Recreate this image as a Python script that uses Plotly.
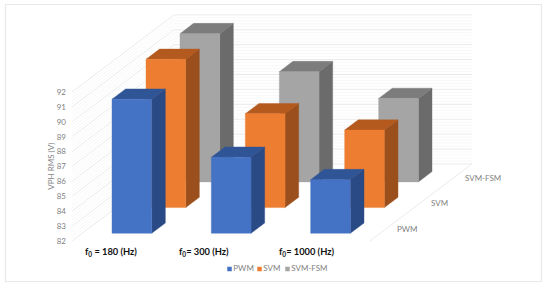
import plotly.graph_objects as go

categories = ["f<sub>0</sub> = 180 (Hz)", "f<sub>0</sub>= 300 (Hz)", "f<sub>0</sub>= 1000 (Hz)"]
series_names = ["PWM", "SVM", "SVM-FSM"]
pwm = [91.0, 87.1, 85.6]
svm = [91.95, 88.3, 87.2]
svm_fsm = [91.95, 89.4, 87.6]
y_ticks = [82, 83, 84, 85, 86, 87, 88, 89, 90, 91, 92]
y_title = "VPH RMS (V)"

values = [pwm, svm, svm_fsm]
front = ["#4472C4", "#ED7D31", "#A5A5A5"]
top = ["#2F5597", "#B45A1E", "#7C7C7C"]
side = ["#2A4A85", "#9B4F1C", "#6B6B6B"]

# layout geometry of the oblique projection (pixels)
W, H = 550, 288
X0, Y0 = 72.0, 241.0      # front-left floor corner
CAT_W = 99.33             # px per category
UNIT = 14.9               # px per value unit
DX, DY = 34.0, 25.7       # px shift per depth slot
BASE = 82
GAP, BAR = 0.3, 0.4

x_range = [-X0 / CAT_W, (W - X0) / CAT_W]
y_range = [BASE - (H - Y0) / UNIT, BASE + Y0 / UNIT]


def proj(cat, val, depth):
    """category position, value and depth slot -> plotted x, y (oblique projection)."""
    return cat + depth * DX / CAT_W, val + depth * DY / UNIT


def poly(points, color):
    pts = [proj(*p) for p in points] + [proj(*points[0])]
    return go.Scatter(x=[p[0] for p in pts], y=[p[1] for p in pts], mode="lines",
                      fill="toself", fillcolor=color, line=dict(width=0.4, color=color),
                      hoverinfo="skip", showlegend=False)


def seg(points, color, width):
    pts = [proj(*p) for p in points]
    return go.Scatter(x=[p[0] for p in pts], y=[p[1] for p in pts], mode="lines",
                      line=dict(color=color, width=width), hoverinfo="skip", showlegend=False)


fig = go.Figure()
n_cat, n_ser = len(categories), len(series_names)

# minor then major grid on walls
for i in range(10 * 5 + 1):
    v = BASE + i * 0.2
    major = i % 5 == 0
    c, w = ("#E8E8E8", 0.9) if major else ("#F6F6F6", 0.8)
    fig.add_trace(seg([(0, v, 0), (0, v, n_ser), (n_cat, v, n_ser)], c, w))

# floor right edge
fig.add_trace(seg([(n_cat, BASE, 0), (n_cat, BASE, n_ser)], "#E8E8E8", 0.9))

for s in range(n_ser - 1, -1, -1):
    d0, d1 = s + GAP, s + GAP + BAR
    for c in range(n_cat):
        a, b = c + GAP, c + GAP + BAR
        v = values[s][c]
        fig.add_trace(poly([(b, BASE, d0), (b, BASE, d1), (b, v, d1), (b, v, d0)], side[s]))
        fig.add_trace(poly([(a, v, d0), (b, v, d0), (b, v, d1), (a, v, d1)], top[s]))
        fig.add_trace(poly([(a, BASE, d0), (b, BASE, d0), (b, v, d0), (a, v, d0)], front[s]))

# legend row: swatch + name, spaced as in the reference
legend_swatch_px = [229.5, 259.5, 287.5]
legend_y = BASE - (269 - Y0) / UNIT
for s, name in enumerate(series_names):
    lx = (legend_swatch_px[s] - X0) / CAT_W
    fig.add_trace(go.Scatter(x=[lx], y=[legend_y], mode="markers+text", name=name,
                             text=[name], textposition="middle right",
                             textfont=dict(family="Lato", size=8, color="#7F7F7F"),
                             marker=dict(symbol="square", size=4.5, color=front[s]),
                             hoverinfo="skip", showlegend=False, cliponaxis=False))

# depth axis labels
for s, name in enumerate(series_names):
    px, py = proj(n_cat + 0.09, BASE - 0.07, s + 0.5)
    fig.add_annotation(x=px, y=py, text=name, showarrow=False, xanchor="left", yanchor="middle",
                       xshift=-1, font=dict(family="Lato", size=8, color="#7F7F7F"))

# category labels (hand-placed text boxes in the original)
cat_centres = [0.395, 1.33, 2.365]
for lab, cx in zip(categories, cat_centres):
    fig.add_annotation(x=cx, y=BASE - 0.75, text="<b>" + lab + "</b>", showarrow=False,
                       xanchor="center", yanchor="middle",
                       font=dict(family="Lato", size=9.3, color="#111111"))

fig.add_annotation(x=-0.22, y=87, text=y_title, textangle=-90, showarrow=False,
                   font=dict(family="Lato", size=8, color="#7F7F7F"))

# chart border
fig.add_shape(type="rect", xref="paper", yref="paper",
              x0=5.5 / W, x1=541.5 / W, y0=1 - 281.5 / H, y1=1 - 4.5 / H,
              line=dict(color="#E8E8E8", width=1.2), fillcolor="rgba(0,0,0,0)")

fig.update_layout(
    width=W, height=H, margin=dict(l=0, r=0, t=0, b=0), autosize=False,
    paper_bgcolor="white", plot_bgcolor="white",
    xaxis=dict(range=x_range, visible=False, fixedrange=True),
    yaxis=dict(range=y_range, tickvals=y_ticks, ticktext=[str(t) for t in y_ticks],
               anchor="free", position=66 / W, side="left", showgrid=False, zeroline=False,
               showline=False, ticks="", fixedrange=True,
               tickfont=dict(family="Lato", size=8, color="#7F7F7F")),
    showlegend=False,
)

fig.write_html("out.html", config={"displayModeBar": False},
               post_script="document.body.style.margin='0';")
